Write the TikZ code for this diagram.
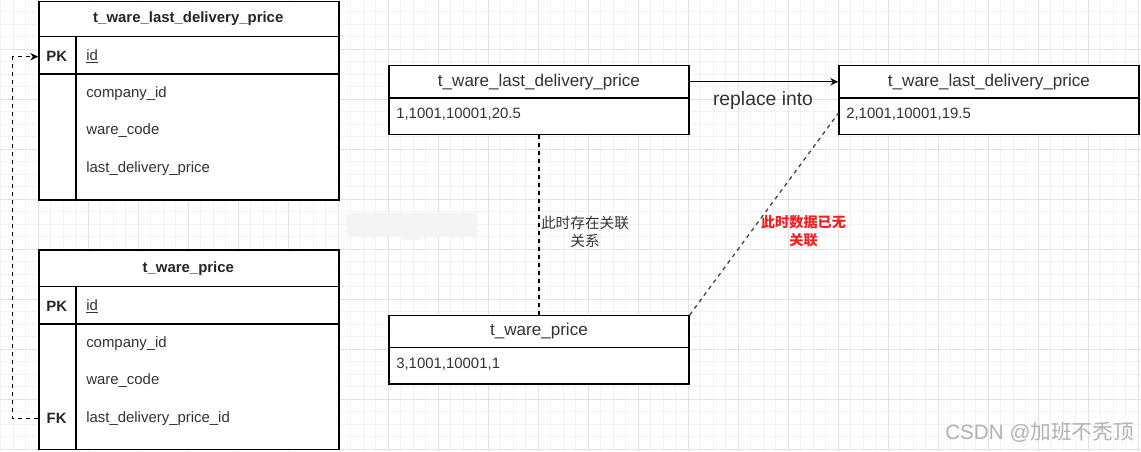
\documentclass[tikz,border=0pt]{standalone}
\usepackage{fontspec}
\setmainfont{Liberation Sans}
\newfontfamily\cjk{Noto Sans CJK SC}
\usetikzlibrary{arrows.meta,calc}
\definecolor{txt}{HTML}{333333}
\definecolor{gmin}{HTML}{F2F2F2}
\definecolor{gmaj}{HTML}{E2E2E2}
\definecolor{redl}{HTML}{F02020}
\begin{document}
\begin{tikzpicture}[x=0.75pt,y=-0.75pt,
  frame/.style={draw=black, line width=1pt, inner sep=0pt, anchor=north west},
  sep/.style={draw=black, line width=1pt},
  hdr/.style={font=\fontsize{11.2}{13}\selectfont\bfseries, text=black!85, inner sep=0pt},
  keyl/.style={font=\fontsize{11.2}{13}\selectfont\bfseries, text=black!85, inner sep=0pt},
  rowl/.style={font=\fontsize{11.2}{13}\selectfont, text=txt, inner sep=0pt, anchor=west},
  btitle/.style={font=\fontsize{12.8}{15}\selectfont, text=txt, inner sep=0pt},
  bdata/.style={font=\fontsize{11.2}{13}\selectfont, text=txt, inner sep=0pt, anchor=west},
  rel/.style={draw=black, line width=0.95pt, dash pattern=on 3pt off 3pt},
  tip/.style={-{Stealth[length=6pt,width=5.5pt]}}
]
\useasboundingbox (0,0) rectangle (1141,451);
\fill[white] (0,0) rectangle (1141,451);
% grid
\foreach \i in {0,...,91} {\draw[gmin, line width=0.5pt] ({0.8+12.5*\i},0) -- ({0.8+12.5*\i},451);}
\foreach \i in {0,...,36} {\draw[gmin, line width=0.5pt] (0,{-0.7+12.5*\i}) -- (1141,{-0.7+12.5*\i});}
\foreach \i in {0,...,23} {\draw[gmaj, line width=0.6pt] ({-11.7+50*\i},0) -- ({-11.7+50*\i},451);}
\foreach \i in {0,...,9} {\draw[gmaj, line width=0.6pt] (0,{-0.7+50*\i}) -- (1141,{-0.7+50*\i});}

% blurred patch
\fill[gray!9, rounded corners=3pt] (346,213) rectangle (478,236);
\fill[gray!9] (402,228) rectangle (420,240);

% ---------- table 1 ----------
\node[frame, fill=white, minimum width=225pt, minimum height=149.1pt] (t1) at (38.3,0.5) {};
\draw[sep] (38.3,36.7) -- (338.3,36.7);
\draw[sep] (38.3,74) -- (338.3,74);
\draw[sep] (76,36.7) -- (76,199.3);
\node[hdr] (t1h) at (188.3,18.5) {t\_ware\_last\_delivery\_price};
\node[keyl] (pk1) at (56.7,56.7) {PK};
\node[rowl] (t1r0) at (86,56.7) {\underline{id}};
\node[rowl] (t1r1) at (86,93.5) {company\_id};
\node[rowl] (t1r2) at (86,131) {ware\_code};
\node[rowl] (t1r3) at (86,168.5) {last\_delivery\_price};

% ---------- table 2 ----------
\node[frame, fill=white, minimum width=225pt, minimum height=149.8pt] (t2) at (38.3,249.3) {};
\draw[sep] (38.3,286.7) -- (338.3,286.7);
\draw[sep] (38.3,324) -- (338.3,324);
\draw[sep] (76,286.7) -- (76,449);
\node[hdr] (t2h) at (188.3,268.3) {t\_ware\_price};
\node[keyl] (pk2) at (56.7,306) {PK};
\node[rowl] (t2r0) at (86,306) {\underline{id}};
\node[rowl] (t2r1) at (86,343.3) {company\_id};
\node[rowl] (t2r2) at (86,381) {ware\_code};
\node[keyl] (fk2) at (56.7,418.3) {FK};
\node[rowl] (t2r3) at (86,418.3) {last\_delivery\_price\_id};

% FK -> PK connector
\draw[rel, tip] (t2.west |- fk2) -- (12.7,418.3) |- (t1.west |- pk1);

% ---------- middle / right boxes ----------
\node[frame, fill=white, minimum width=225pt, minimum height=24.2pt] (m1t) at (388.3,65) {};
\node[frame, fill=white, minimum width=225pt, minimum height=27.5pt] (m1d) at (388.3,97.3) {};
\node[btitle] at (m1t.center) {t\_ware\_last\_delivery\_price};
\node[bdata] (m1v) at (396,114.5) {1,1001,10001,20.5};

\node[frame, fill=white, minimum width=225pt, minimum height=24.2pt] (r1t) at (838.3,65) {};
\node[frame, fill=white, minimum width=225pt, minimum height=27.5pt] (r1d) at (838.3,97.3) {};
\node[btitle] at (r1t.center) {t\_ware\_last\_delivery\_price};
\node[bdata] (r1v) at (846,114.5) {2,1001,10001,19.5};

\node[frame, fill=white, minimum width=225pt, minimum height=23.8pt] (b1t) at (388.3,315) {};
\node[frame, fill=white, minimum width=225pt, minimum height=27.5pt] (b1d) at (388.3,346.7) {};
\node[btitle] at (b1t.center) {t\_ware\_price};
\node[bdata] (b1v) at (396,364) {3,1001,10001,1};

% arrow replace into
\draw[line width=1pt, tip] (m1t.east) -- (r1t.west);
\node[font=\fontsize{14.5}{17}\selectfont, text=txt, inner sep=0pt] (rep) at (763,100) {replace into};

% vertical dashed relation
\draw[rel] (m1d.south) -- (b1t.north);
\node[font=\cjk\fontsize{11}{13.5}\selectfont, text=txt, align=center, inner sep=0pt] (lab1) at (585,231.5) {此时存在关联\\关系};

% diagonal dashed relation
\draw[rel, draw=black!75] (b1t.north east) -- ($(r1d.west)+(0,-3)$);
\node[font=\cjk\bfseries\fontsize{10.6}{13.5}\selectfont, text=redl, align=center, inner sep=0pt] (lab2) at (803.5,231.5) {此时数据已无\\关联};

% watermark
\node[anchor=west, inner sep=0pt, text=gray!60, font=\fontsize{15.5}{18}\selectfont] (wm) at (945,432) {CSDN @{\cjk 加班不秃顶}};
\end{tikzpicture}
\end{document}
